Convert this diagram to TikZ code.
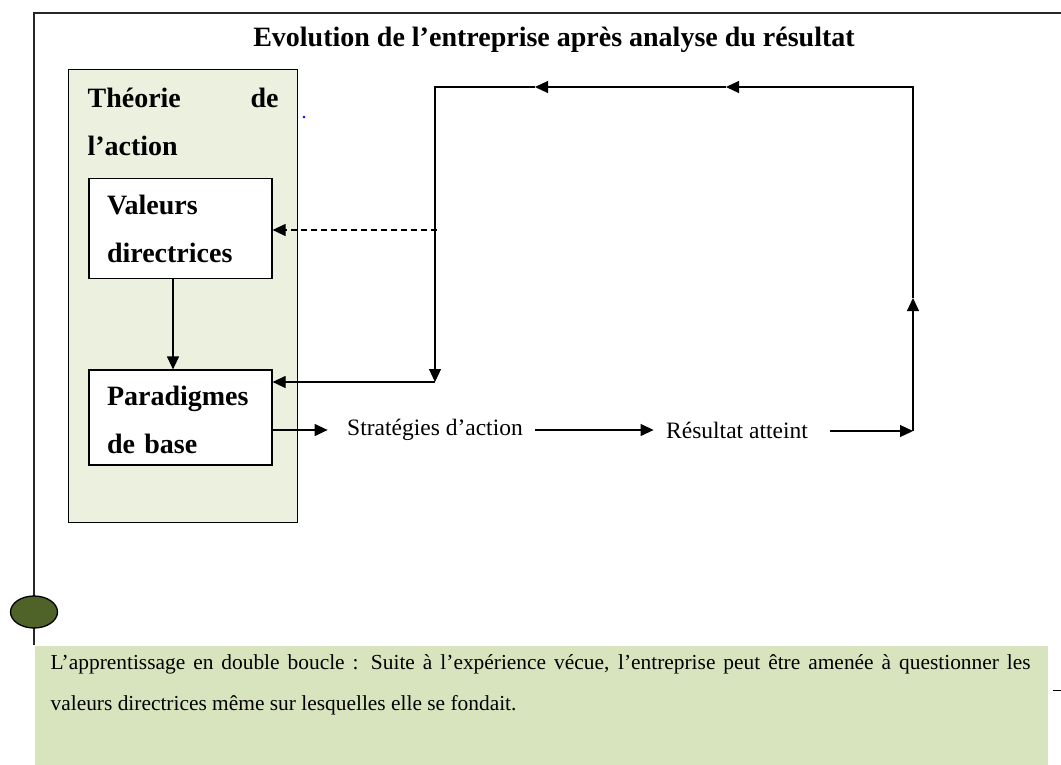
\documentclass[tikz,border=0pt]{standalone}
\usepackage{fontspec}
\setmainfont{Liberation Serif}
\usetikzlibrary{arrows.meta,shapes.geometric}
\definecolor{theogreen}{HTML}{EBF1DE}
\definecolor{notegreen}{HTML}{D7E4BD}
\definecolor{olive}{HTML}{4F6228}
\begin{document}
\begin{tikzpicture}[x=1pt,y=-1pt,line width=1.2pt,
  arr/.style={-{Triangle[length=13pt,width=12pt]}},
  boldlbl/.style={font=\fontsize{28}{48}\selectfont\bfseries},
  innerbox/.style={draw=black,fill=white,minimum width=183pt,minimum height=100pt,
    text width=147pt,inner xsep=18pt,inner ysep=0pt,align=left,boldlbl},
  midlbl/.style={font=\fontsize{23.5}{28}\selectfont,inner xsep=12pt,inner ysep=2pt}]
\useasboundingbox (0,0) rectangle (1061,764);
% outer frame
\coordinate (f-tl) at (34,13);
\coordinate (f-tr) at (1061,13);
\coordinate (f-bl) at (34,645);
\draw[line width=1.1pt,black!85] (f-tr) -- (f-tl) -- (f-bl);
% title
\node[font=\fontsize{28}{32}\selectfont\bfseries] (title) at (554,40) {Evolution de l’entreprise après analyse du résultat};
% theory box
\node[draw=black,fill=theogreen,minimum width=229pt,minimum height=453pt,inner sep=0pt,anchor=north west] (theo) at (68,69) {};
\node[boldlbl,text width=191pt,align=justify,inner sep=0pt,anchor=north west] (theolbl) at (87,87) {Théorie de\linebreak l’action};
\fill[blue] (304,117) circle (1.3pt);
% inner boxes
\node[innerbox] (val) at (180.5,228.5) {Valeurs\\directrices};
\node[innerbox,minimum height=95pt] (parad) at (180.5,417.5) {\rule{0pt}{25pt}Paradigmes\\de base};
\draw[arr] ([xshift=-7.5pt]val.south) -- ([xshift=-7.5pt]parad.north);
% labels
\node[midlbl] (strat) at (435,430) {Stratégies d’action};
\node[midlbl] (res) at (737,430) {Résultat atteint};
% loop coordinates
\coordinate (c-br) at (913,431);
\coordinate (c-mid) at (913,298);
\coordinate (c-tr) at (913,87);
\coordinate (c-t1) at (726,87);
\coordinate (c-t2) at (535,87);
\coordinate (c-tl) at (435,87);
\coordinate (c-bl) at (435,382);
\coordinate (c-dash) at (437,230);
\draw[arr] (parad.east |- strat) -- ([xshift=-7pt]strat.west);
\draw[arr] (strat.east) -- (res.west);
\draw[arr] ([xshift=10pt]res.east |- c-br) -- (c-br);
\draw[arr] (c-br) -- (c-mid);
\draw[arr] (c-mid) -- (c-tr) -- (c-t1);
\draw[arr] (c-t1) -- (c-t2);
\draw[arr] (c-t2) -- (c-tl) -- (c-bl);
\draw[arr] (c-bl) -- (parad.east |- c-bl);
\draw[arr,dash pattern=on 6pt off 4pt] (c-dash) -- (val.east |- c-dash);
% ellipse on the frame
\node[ellipse,draw=black,line width=1.3pt,fill=olive,minimum width=47pt,minimum height=32pt,inner sep=0pt] (dot) at (34,612) {};
% note box
\node[fill=notegreen,minimum width=1013pt,minimum height=122pt,inner sep=0pt,anchor=north west] (note) at (34,645) {};
\node[font=\fontsize{21.4}{41}\selectfont,text width=980pt,align=justify,inner sep=0pt,anchor=north west] (notetxt) at (50,654)
  {L’apprentissage en double boucle : Suite à l’expérience vécue, l’entreprise peut être amenée à questionner les\linebreak valeurs directrices même sur lesquelles elle se fondait.};
\coordinate (d-a) at (1053,690);
\coordinate (d-b) at (1061,690);
\draw[line width=1pt] (d-a) -- (d-b);
\end{tikzpicture}
\end{document}
